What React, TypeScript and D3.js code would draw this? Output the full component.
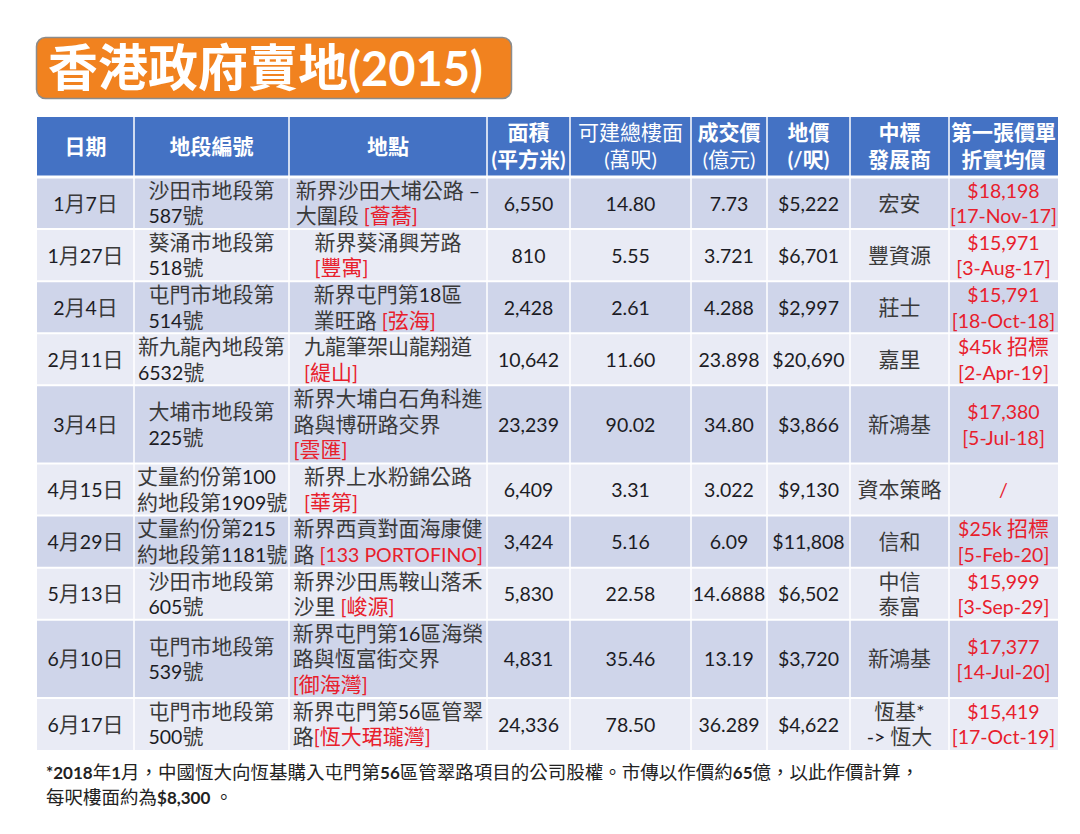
import React, { useEffect } from "react";
import * as d3 from "d3";

// ---------- DATA ----------
const title = "香港政府賣地(2015)";
const headers = [
  ["日期"],
  ["地段編號"],
  ["地點"],
  ["面積", "(平方米)"],
  ["可建總樓面", "(萬呎)"],
  ["成交價", "(億元)"],
  ["地價", "(/呎)"],
  ["中標", "發展商"],
  ["第一張價單", "折實均價"],
];
const headerBold = [[true], [true], [true], [true, true], [false, false], [true, false], [true, true], [true, true], [true, true]];
const dates = ["1月7日", "1月27日", "2月4日", "2月11日", "3月4日", "4月15日", "4月29日", "5月13日", "6月10日", "6月17日"];
const lotNumbers = [
  ["沙田市地段第", "587號"],
  ["葵涌市地段第", "518號"],
  ["屯門市地段第", "514號"],
  ["新九龍內地段第", "6532號"],
  ["大埔市地段第", "225號"],
  ["丈量約份第100", "約地段第1909號"],
  ["丈量約份第215", "約地段第1181號"],
  ["沙田市地段第", "605號"],
  ["屯門市地段第", "539號"],
  ["屯門市地段第", "500號"],
];
const locations = [
  ["新界沙田大埔公路 –", "大圍段 "],
  ["新界葵涌興芳路", ""],
  ["新界屯門第18區", "業旺路 "],
  ["九龍筆架山龍翔道", ""],
  ["新界大埔白石角科進", "路與博研路交界", ""],
  ["新界上水粉錦公路", ""],
  ["新界西貢對面海康健", "路 "],
  ["新界沙田馬鞍山落禾", "沙里 "],
  ["新界屯門第16區海榮", "路與恆富街交界", ""],
  ["新界屯門第56區管翠", "路"],
];
const projects = ["[薈蕎]", "[豐寓]", "[弦海]", "[緹山]", "[雲匯]", "[華第]", "[133 PORTOFINO]", "[峻源]", "[御海灣]", "[恆大珺瓏灣]"];
const siteAreas = [6550, 810, 2428, 10642, 23239, 6409, 3424, 5830, 4831, 24336];
const grossFloorAreas = [14.8, 5.55, 2.61, 11.6, 90.02, 3.31, 5.16, 22.58, 35.46, 78.5];
const dealPrices = ["7.73", "3.721", "4.288", "23.898", "34.80", "3.022", "6.09", "14.6888", "13.19", "36.289"];
const landPrices = [5222, 6701, 2997, 20690, 3866, 9130, 11808, 6502, 3720, 4622];
const developers = [["宏安"], ["豐資源"], ["莊士"], ["嘉里"], ["新鴻基"], ["資本策略"], ["信和"], ["中信", "泰富"], ["新鴻基"], ["恆基*", "-> 恆大"]];
const firstPriceLists = [
  ["$18,198", "[17-Nov-17]"],
  ["$15,971", "[3-Aug-17]"],
  ["$15,791", "[18-Oct-18]"],
  ["$45k 招標", "[2-Apr-19]"],
  ["$17,380", "[5-Jul-18]"],
  ["/"],
  ["$25k 招標", "[5-Feb-20]"],
  ["$15,999", "[3-Sep-29]"],
  ["$17,377", "[14-Jul-20]"],
  ["$15,419", "[17-Oct-19]"],
];
const footnote = [
  "*2018年1月，中國恆大向恆基購入屯門第56區管翠路項目的公司股權。市傳以作價約65億，以此作價計算，",
  "每呎樓面約為$8,300 。",
];

// ---------- LAYOUT / STYLE ----------
const W = 1080;
const H = 834;
const COL_EDGES = [37, 134, 289, 487, 570, 691, 767, 850, 949, 1058];
const HEADER_TOP = 117;
const HEADER_BOTTOM = 177;
const BODY_BOTTOM = 750;
const CJK = "'Noto Sans CJK TC'";
const LATIN = "Lato";
const BLUE = "#4472C4";
const ROW_DARK = "#CFD5EA";
const ROW_LIGHT = "#E9EBF5";
const RED = "#E8202C";
const ORANGE = "#F1821F";

type Seg = { t: string; red?: boolean };
type Line = Seg[];

const isCJK = (ch: string) => /[\u2E80-\u9FFF\u3000-\u303F\uFF00-\uFFEF]/.test(ch);

function splitRuns(text: string) {
  const runs: { t: string; cjk: boolean }[] = [];
  for (const ch of text) {
    const c = isCJK(ch);
    const last = runs[runs.length - 1];
    if (last && last.cjk === c) last.t += ch;
    else runs.push({ t: ch, cjk: c });
  }
  return runs;
}

let ctx: CanvasRenderingContext2D | null = null;
function measure(line: Line, cjkSize: number, latSize: number, weight: number) {
  if (!ctx) ctx = document.createElement("canvas").getContext("2d");
  let w = 0;
  for (const s of line) {
    for (const r of splitRuns(s.t)) {
      ctx!.font = `${weight} ${r.cjk ? cjkSize : latSize}px ${r.cjk ? CJK : LATIN}`;
      w += ctx!.measureText(r.t).width;
    }
  }
  return w;
}

type Style = { cjkSize: number; latSize: number; cjkColor: string; latColor: string; cjkWeight?: number; latWeight?: number };

// One <text> per cell / paragraph; each line is a positioned <tspan>, with script runs nested inside.
function Paragraph(props: {
  xs: number[];
  ys: number[];
  anchor: "start" | "middle";
  lines: Line[];
  style: Style;
  weights?: number[];
}) {
  const { xs, ys, anchor, lines, style, weights } = props;
  return (
    <text textAnchor={anchor} style={{ whiteSpace: "pre" }}>
      {lines.map((line, li) => (
        <tspan key={li} x={xs[li]} y={ys[li]} fontWeight={weights ? weights[li] : 400}>
          {line.flatMap((s, i) =>
            splitRuns(s.t).map((r, j) => (
              <tspan
                key={`${i}-${j}`}
                fontFamily={r.cjk ? CJK : LATIN}
                fontSize={r.cjk ? style.cjkSize : style.latSize}
                fontWeight={r.cjk ? style.cjkWeight : style.latWeight}
                fill={s.red ? RED : r.cjk ? style.cjkColor : style.latColor}
              >
                {r.t}
              </tspan>
            ))
          )}
        </tspan>
      ))}
    </text>
  );
}

export default function App() {
  useEffect(() => {
    document.body.style.margin = "0";
  }, []);

  const nRows = dates.length;
  const fmtInt = d3.format(",");
  const fmt2 = d3.format(".2f");
  const fmtDollar = d3.format("$,");

  const rows = d3.range(nRows).map((i) => {
    const loc: Line[] = locations[i].map((l, k, arr) =>
      k === arr.length - 1 ? [{ t: l }, { t: projects[i], red: true }] : [{ t: l }]
    );
    return [
      { lines: [[{ t: dates[i] }]], block: false },
      { lines: lotNumbers[i].map((l) => [{ t: l }]), block: true },
      { lines: loc, block: true },
      { lines: [[{ t: fmtInt(siteAreas[i]) }]], block: false },
      { lines: [[{ t: fmt2(grossFloorAreas[i]) }]], block: false },
      { lines: [[{ t: dealPrices[i] }]], block: false },
      { lines: [[{ t: fmtDollar(landPrices[i]) }]], block: false },
      { lines: developers[i].map((l) => [{ t: l }]), block: false },
      { lines: firstPriceLists[i].map((l) => [{ t: l, red: true }]), block: false },
    ] as { lines: Line[]; block: boolean }[];
  });

  const lineCounts = rows.map((cells) => d3.max(cells, (c) => c.lines.length) as number);
  const cum = [0, ...d3.cumsum(lineCounts)];
  const y = d3.scaleLinear().domain([0, d3.sum(lineCounts)]).range([HEADER_BOTTOM, BODY_BOTTOM]);
  const x = d3.scaleOrdinal<number, number>().domain(d3.range(COL_EDGES.length)).range(COL_EDGES);
  const left = COL_EDGES[0];
  const right = COL_EDGES[COL_EDGES.length - 1];

  const BODY: Style = { cjkSize: 21, latSize: 19.5, cjkColor: "#3a3a3a", latColor: "#1c1c24" };
  const HEAD: Style = { cjkSize: 21, latSize: 20, cjkColor: "#fff", latColor: "#fff" };
  const BODY_LH = 25.5;
  const HEAD_LH = 27;

  return (
    <svg width={W} height={H} style={{ display: "block", background: "#fff" }} xmlns="http://www.w3.org/2000/svg">
      <rect x={0} y={0} width={W} height={H} fill="#fff" />
      {/* Title */}
      <rect x={36.5} y={37.5} width={475} height={61} rx={9} fill={ORANGE} stroke="#8c8c8c" strokeWidth={1.5} />
      <Paragraph
        xs={[48]}
        ys={[86]}
        anchor="start"
        lines={[[{ t: title }]]}
        weights={[700]}
        style={{ cjkSize: 50, latSize: 47, cjkColor: "#fff", latColor: "#fff" }}
      />

      {/* Header */}
      <rect x={left} y={HEADER_TOP} width={right - left} height={HEADER_BOTTOM - HEADER_TOP} fill={BLUE} />
      {headers.map((h, c) => {
        const cx = (x(c) + x(c + 1)) / 2;
        const cy = (HEADER_TOP + HEADER_BOTTOM) / 2 - 1;
        return (
          <Paragraph
            key={`h${c}`}
            xs={h.map(() => cx)}
            ys={h.map((_, k) => cy + (k - (h.length - 1) / 2) * HEAD_LH + 21 * 0.36)}
            anchor="middle"
            lines={h.map((l) => [{ t: l }])}
            weights={headerBold[c].map((b) => (b ? 700 : 400))}
            style={HEAD}
          />
        );
      })}

      {/* Body rows */}
      {rows.map((cells, r) => {
        const y0 = y(cum[r]);
        const y1 = y(cum[r + 1]);
        return (
          <rect key={`bg${r}`} x={left} y={y0} width={right - left} height={y1 - y0} fill={r % 2 === 0 ? ROW_DARK : ROW_LIGHT} />
        );
      })}

      {/* Grid lines */}
      {COL_EDGES.slice(1, -1).map((cx, i) => (
        <line key={`v${i}`} x1={cx} x2={cx} y1={HEADER_TOP} y2={BODY_BOTTOM} stroke="#fff" strokeWidth={1.5} />
      ))}
      {cum.slice(1, -1).map((v, i) => (
        <line key={`hz${i}`} x1={left} x2={right} y1={y(v)} y2={y(v)} stroke="#fff" strokeWidth={2} />
      ))}
      <line x1={left} x2={right} y1={HEADER_BOTTOM} y2={HEADER_BOTTOM} stroke="#fff" strokeWidth={3} />

      {rows.map((cells, r) => {
        const cy = (y(cum[r]) + y(cum[r + 1])) / 2;
        return cells.map((cell, c) => {
          const x0 = x(c);
          const cx = (x0 + x(c + 1)) / 2;
          const n = cell.lines.length;
          let startX = cx;
          if (cell.block) {
            const maxW = d3.max(cell.lines, (l) => measure(l, BODY.cjkSize, BODY.latSize, 400)) as number;
            startX = Math.max(x0 + 3, cx - maxW / 2);
          }
          return (
            <Paragraph
              key={`c${r}-${c}`}
              xs={cell.lines.map(() => startX)}
              ys={cell.lines.map((_, k) => cy + (k - (n - 1) / 2) * BODY_LH + BODY.cjkSize * 0.36)}
              anchor={cell.block ? "start" : "middle"}
              lines={cell.lines}
              style={BODY}
            />
          );
        });
      })}

      {/* Footnote */}
      <Paragraph
        xs={footnote.map(() => 46)}
        ys={footnote.map((_, k) => 773 + k * 25 + 18 * 0.36)}
        anchor="start"
        lines={footnote.map((l) => [{ t: l }])}
        style={{ cjkSize: 18.5, latSize: 17, cjkColor: "#222", latColor: "#222", latWeight: 700 }}
      />
    </svg>
  );
}
